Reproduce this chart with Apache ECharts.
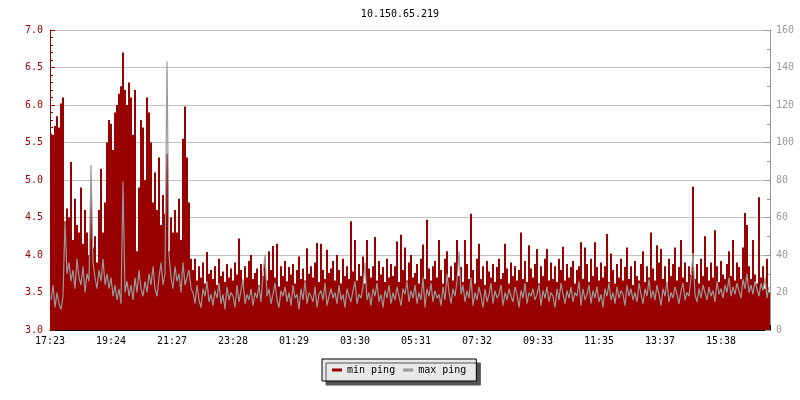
<!DOCTYPE html>
<html>
<head>
<meta charset="utf-8">
<script src="https://cdn.jsdelivr.net/npm/echarts@6/dist/echarts.min.js"></script>
<style>html,body{margin:0;padding:0;background:#fff;}#c{width:800px;height:400px;}</style>
</head>
<body>
<div id="c"></div>
<script>
var titleText = '10.150.65.219';
var tickLabels = ['17:23','19:24','21:27','23:28','01:29','03:30','05:31','07:32','09:33','11:35','13:37','15:38'];
var seriesNames = ['min ping', 'max ping'];

// min ping (ms, left axis), one value per ~4 minutes
var minPing = [
5.62,5.60,5.72,5.85,5.70,6.02,6.10,4.45,4.62,4.50,
5.24,4.20,4.75,4.40,4.30,4.90,4.15,4.60,4.30,4.00,
4.85,4.10,4.25,3.90,4.60,5.15,4.30,4.70,5.50,5.80,
5.75,5.40,5.90,6.00,6.15,6.25,6.70,6.20,6.00,6.30,
6.10,5.60,6.20,4.05,4.90,5.80,5.70,5.00,6.10,5.90,
5.50,4.70,5.10,4.60,5.30,4.40,4.80,4.55,5.35,4.05,
4.50,4.30,4.60,4.30,4.75,4.20,5.55,5.98,5.30,4.70,
3.95,
3.80,3.95,3.66,3.85,3.70,3.90,3.62,4.04,3.75,3.80,
3.68,3.85,3.60,3.95,3.72,3.78,3.64,3.88,3.70,3.82,
3.66,3.90,3.74,4.22,3.80,3.62,3.85,3.70,3.92,4.00,
3.68,3.76,3.82,3.60,3.88,3.72,3.95,3.66,4.05,3.80,
4.12,3.70,4.15,3.58,3.85,3.72,3.92,3.65,3.84,3.74,
3.88,3.62,3.80,3.98,3.68,3.82,3.66,4.09,3.75,3.85,
3.70,3.90,4.16,3.64,4.15,3.80,3.68,4.07,3.76,3.82,
3.92,3.66,4.00,3.80,3.62,3.95,3.72,3.85,3.68,4.45,
3.78,4.20,3.66,3.88,3.72,3.98,3.62,4.20,3.82,3.70,
3.85,4.24,3.66,3.92,3.74,3.84,3.64,3.95,3.70,3.88,
3.72,3.85,4.18,3.64,4.27,3.80,4.10,3.66,3.90,4.00,
3.70,3.76,3.88,3.62,3.95,4.14,3.68,4.47,3.82,3.66,
3.85,3.92,3.70,4.20,3.80,3.62,3.95,4.05,3.70,3.85,
3.66,3.90,4.20,3.72,3.84,3.64,4.20,3.88,3.68,4.55,
3.80,3.62,3.95,4.15,3.68,3.85,3.60,3.92,3.78,3.70,
3.88,3.64,3.84,3.95,3.68,3.76,4.15,3.82,3.62,3.90,
3.72,3.85,3.66,3.80,4.30,3.68,3.92,3.64,4.13,3.82,
3.70,3.88,4.08,3.62,3.85,3.72,3.95,4.08,3.66,3.90,
3.68,3.85,3.64,3.95,3.80,4.11,3.66,3.88,3.70,3.84,
3.92,3.62,3.80,3.85,4.17,3.68,4.10,3.88,3.64,3.95,
3.72,4.17,3.84,3.66,3.90,3.70,3.85,4.28,3.64,4.02,
3.80,3.62,3.88,3.70,3.95,3.66,3.84,4.10,3.68,3.85,
3.60,3.92,3.72,3.66,3.88,4.05,3.64,3.85,3.70,4.30,
3.82,3.66,4.13,3.90,4.08,3.68,3.85,3.62,3.95,3.72,
3.88,4.10,3.66,3.84,4.20,3.70,3.90,3.64,3.85,3.74,
4.91,3.68,3.88,3.62,3.95,3.72,4.25,3.84,3.66,3.90,
3.70,4.33,3.85,3.64,3.92,3.74,3.68,3.88,4.05,3.72,
4.20,3.66,3.90,3.84,3.68,4.10,4.56,4.40,3.85,3.68,
4.20,3.74,3.62,4.77,3.70,3.85,3.55,3.95,3.50
];

// max ping (ms, right axis)
var maxPing = [
16,24,12,20,14,11,18,58,30,36,
26,32,22,38,28,24,34,20,30,26,
88,36,28,22,32,26,38,24,30,22,
28,18,24,16,22,14,79,20,26,18,
24,16,28,20,32,22,18,26,20,30,
24,34,22,18,28,36,24,30,143,40,
28,22,34,26,30,20,36,24,28,32,
22,
20,14,24,16,12,22,18,26,15,19,
13,21,17,25,14,19,11,23,16,20,
18,12,24,15,21,27,14,19,16,22,
13,20,17,24,15,30,40,18,22,14,
19,25,16,12,21,18,23,15,20,13,
24,17,19,11,22,16,26,14,20,18,
15,23,12,19,21,16,25,13,18,22,
17,20,14,24,16,19,12,22,18,15,
21,26,14,19,17,23,36,16,20,13,
22,18,25,15,19,12,21,17,24,14,
20,16,23,18,13,22,19,26,15,21,
17,24,14,20,16,28,12,22,18,25,
15,21,17,19,13,23,16,30,20,14,
22,18,26,42,19,24,15,21,17,28,
13,20,16,23,18,12,22,15,19,25,
14,21,17,19,24,13,20,16,22,18,
15,23,19,12,21,17,25,14,20,18,
22,16,19,24,13,21,17,23,15,20,
18,12,22,16,25,19,14,21,17,23,
15,20,18,26,13,22,16,19,24,14,
21,17,23,15,19,12,22,18,25,16,
20,14,23,17,21,19,13,24,18,22,
16,20,15,25,19,14,22,18,27,17,
21,16,24,19,13,22,18,26,15,20,
17,23,19,14,21,25,16,20,18,28,
41,19,15,22,17,24,20,16,23,18,
21,15,26,19,22,17,24,20,28,18,
23,19,25,21,17,27,22,30,20,24,
19,26,22,18,25,21,28,17,23
];

var N = minPing.length;
var tickStep = 30.5;
function toPairs(arr) {
  return arr.map(function (v, i) { return [i + 0.5, v]; });
}

var FONT = 'DejaVu Sans Mono';
var chart = echarts.init(document.getElementById('c'), null, {renderer: 'canvas'});
chart.setOption({
  animation: false,
  backgroundColor: '#ffffff',
  title: {
    text: titleText, left: 'center', top: 4,
    textStyle: {fontFamily: FONT, fontSize: 10, fontWeight: 'normal', color: '#000'}
  },
  legend: {
    data: [
      {name: seriesNames[0], itemStyle: {color: '#990000'}},
      {name: seriesNames[1], itemStyle: {color: '#999999'}}
    ],
    left: 322, top: 359,
    orient: 'horizontal',
    icon: 'rect', itemWidth: 10, itemHeight: 3, itemGap: 8,
    padding: [6, 10],
    backgroundColor: '#e8e8e8', borderColor: '#000', borderWidth: 1, borderRadius: 0,
    shadowColor: '#555555', shadowBlur: 0, shadowOffsetX: 4, shadowOffsetY: 4,
    textStyle: {fontFamily: FONT, fontSize: 10, color: '#000'}
  },
  grid: {left: 50, right: 30, top: 30, bottom: 70, containLabel: false},
  xAxis: {
    type: 'value', min: 0, max: N, interval: tickStep,
    axisLine: {lineStyle: {color: '#000', width: 1}},
    axisTick: {inside: true, length: 5, lineStyle: {color: '#000'}},
    splitLine: {show: false},
    axisLabel: {
      fontFamily: FONT, fontSize: 10, color: '#000', margin: 6,
      formatter: function (v) {
        var k = Math.round(v / tickStep);
        return (Math.abs(k * tickStep - v) < 0.01 && tickLabels[k]) ? tickLabels[k] : '';
      }
    }
  },
  yAxis: [
    {
      type: 'value', min: 3, max: 7, interval: 0.5, position: 'left',
      axisLine: {show: true, lineStyle: {color: '#990000'}},
      axisTick: {show: true, inside: true, length: 5, lineStyle: {color: '#990000'}},
      minorTick: {show: true, splitNumber: 5, length: 3, lineStyle: {color: '#990000'}},
      splitLine: {show: true, lineStyle: {color: '#c0c0c0', width: 1}},
      axisLabel: {fontFamily: FONT, fontSize: 10, color: '#990000', margin: 7,
        formatter: function (v) { return v.toFixed(1); }}
    },
    {
      type: 'value', min: 0, max: 160, interval: 20, position: 'right',
      axisLine: {show: true, lineStyle: {color: '#999999'}},
      axisTick: {show: true, inside: true, length: 5, lineStyle: {color: '#999999'}},
      minorTick: {show: true, splitNumber: 2, length: 3, lineStyle: {color: '#999999'}},
      splitLine: {show: false},
      axisLabel: {fontFamily: FONT, fontSize: 10, color: '#999999', margin: 6}
    }
  ],
  series: [
    {
      name: seriesNames[0], type: 'bar', yAxisIndex: 0,
      data: toPairs(minPing), barWidth: 2, z: 2,
      itemStyle: {color: '#990000'}
    },
    {
      name: seriesNames[1], type: 'line', yAxisIndex: 1,
      data: toPairs(maxPing), symbol: 'none', z: 3,
      lineStyle: {color: '#999999', width: 1.2},
      itemStyle: {color: '#999999'}
    }
  ]
});
</script>
</body>
</html>
